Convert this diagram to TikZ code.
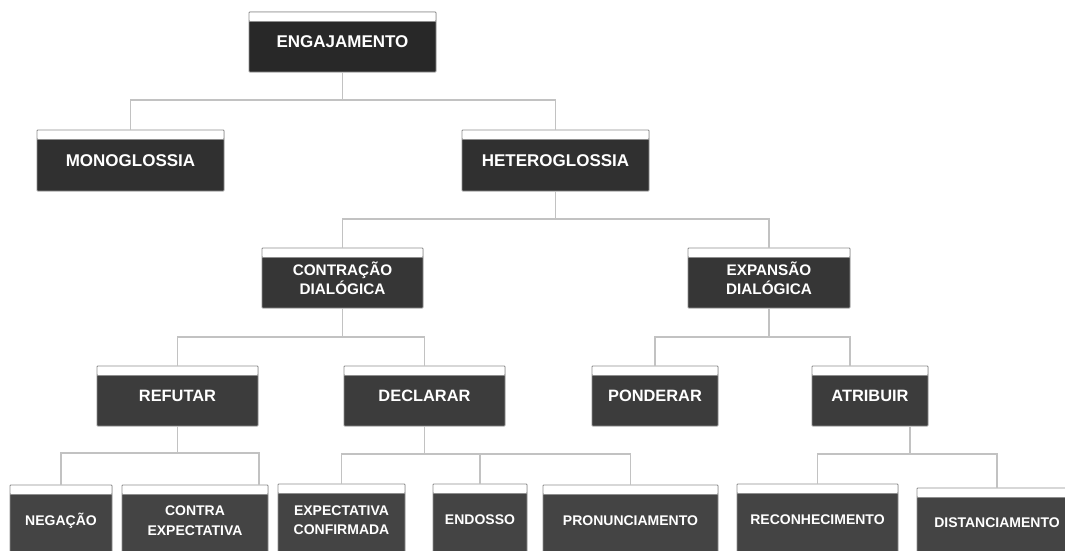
\documentclass[tikz,border=0pt]{standalone}
\usepackage{fontspec}
\setmainfont{Liberation Sans}
\usetikzlibrary{calc}
\definecolor{bordergray}{HTML}{8E8E8E}
\definecolor{linegray}{HTML}{C2C2C2}
\definecolor{cA}{HTML}{282828}
\definecolor{cB}{HTML}{303030}
\definecolor{cC}{HTML}{363636}
\definecolor{cD}{HTML}{3C3C3C}
\definecolor{cE}{HTML}{444444}
\tikzset{
  tbox/.style={draw=bordergray, line width=0.9pt, text=white, align=center,
    inner sep=0pt, rounded corners=0.8pt,
    path picture={
      \fill[white] (path picture bounding box.north west) rectangle ([yshift=-9pt]path picture bounding box.north east);
      \draw[bordergray, line width=0.9pt] ([yshift=-9pt]path picture bounding box.north west) -- ([yshift=-9pt]path picture bounding box.north east);
    }},
  lvA/.style={tbox, fill=cA, font=\bfseries\fontsize{17}{20}\selectfont},
  lvB/.style={tbox, fill=cB, font=\bfseries\fontsize{17}{20}\selectfont},
  lvC/.style={tbox, fill=cC, font=\bfseries\fontsize{15.3}{19}\selectfont},
  lvD/.style={tbox, fill=cD, font=\bfseries\fontsize{16.4}{20}\selectfont},
  lvE/.style={tbox, fill=cE, font=\bfseries\fontsize{14}{19.5}\selectfont},
  conn/.style={draw=linegray, line width=1.6pt}
}
\begin{document}
\begin{tikzpicture}[x=1pt, y=-1pt]
\clip (0,0) rectangle (1065,551);
\fill[white] (0,0) rectangle (1065,551);

% bus levels
\coordinate (busA) at (0,100);
\coordinate (busB) at (0,219);
\coordinate (busC) at (0,337);
\coordinate (busD) at (0,453);
\coordinate (busE) at (0,454);

% nodes
\node[lvA, minimum width=187pt, minimum height=60pt] (eng) at (342.5,42) {ENGAJAMENTO};

\node[lvB, minimum width=187pt, minimum height=61pt] (mono) at (130.5,160.5) {MONOGLOSSIA};
\node[lvB, minimum width=187pt, minimum height=61pt] (hetero) at (555.5,160.5) {HETEROGLOSSIA};

\node[lvC, minimum width=161pt, minimum height=60pt] (contr) at (342.5,278) {CONTRAÇÃO\\DIALÓGICA};
\node[lvC, minimum width=162pt, minimum height=60pt] (expan) at (769,278) {EXPANSÃO\\DIALÓGICA};

\node[lvD, minimum width=161pt, minimum height=60pt] (refut) at (177.5,396) {REFUTAR};
\node[lvD, minimum width=161pt, minimum height=60pt] (decl) at (424.5,396) {DECLARAR};
\node[lvD, minimum width=126pt, minimum height=60pt] (pond) at (655,396) {PONDERAR};
\node[lvD, minimum width=116pt, minimum height=60pt] (atri) at (870,396) {ATRIBUIR};

\node[lvE, minimum width=102pt, minimum height=71pt] (neg) at (61,520.5) {NEGAÇÃO};
\node[lvE, minimum width=146pt, minimum height=71pt] (cexp) at (195,520.5) {CONTRA\\EXPECTATIVA};
\node[lvE, minimum width=127pt, minimum height=72pt] (econf) at (341.5,520) {EXPECTATIVA\\CONFIRMADA};
\node[lvE, minimum width=94pt, minimum height=72pt] (endo) at (480,520) {ENDOSSO};
\node[lvE, minimum width=175pt, minimum height=71pt] (pron) at (630.5,520.5) {PRONUNCIAMENTO};
\node[lvE, minimum width=161pt, minimum height=72pt] (recon) at (817.5,520) {RECONHECIMENTO};
\node[lvE, minimum width=160pt, minimum height=70pt] (dist) at (997,523) {DISTANCIAMENTO};

% off-centre attachment points
\coordinate (atriN) at ([xshift=-20pt]atri.north);
\coordinate (atriS) at ([xshift=40pt]atri.south);
\coordinate (cexpN) at ([xshift=64pt]cexp.north);

% connectors
\draw[conn] (eng.south) -- (eng.south |- busA);
\draw[conn] (mono.north) |- (busA -| hetero.north) -- (hetero.north);

\draw[conn] (hetero.south) -- (hetero.south |- busB);
\draw[conn] (contr.north) |- (busB -| expan.north) -- (expan.north);

\draw[conn] (contr.south) -- (contr.south |- busC);
\draw[conn] (refut.north) |- (busC -| decl.north) -- (decl.north);
\draw[conn] (expan.south) -- (expan.south |- busC);
\draw[conn] (pond.north) |- (busC -| atriN) -- (atriN);

\draw[conn] (refut.south) -- (refut.south |- busD);
\draw[conn] (neg.north) |- (busD -| cexpN) -- (cexpN);

\draw[conn] (decl.south) -- (decl.south |- busE);
\draw[conn] (econf.north) |- (busE -| pron.north) -- (pron.north);
\draw[conn] (endo.north) -- (endo.north |- busE);

\draw[conn] (atriS) -- (atriS |- busE);
\draw[conn] (recon.north) |- (busE -| dist.north) -- (dist.north);
\end{tikzpicture}
\end{document}
